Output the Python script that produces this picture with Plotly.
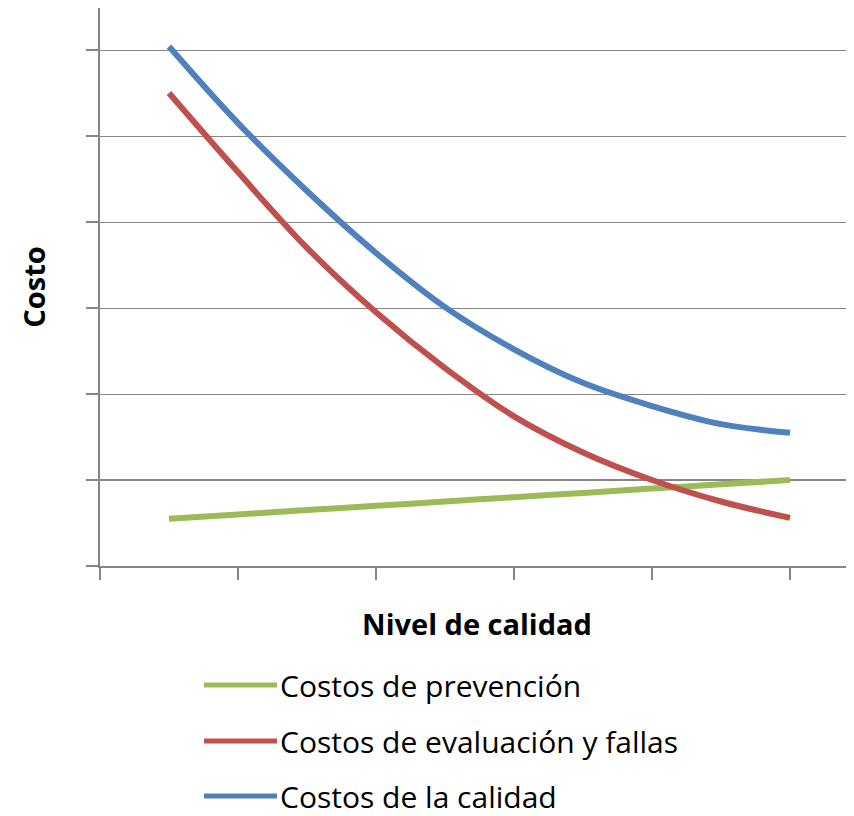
import plotly.graph_objects as go

# Data (x in axis units, tick spacing = 1)
x_vals = [0.5, 1.0, 1.5, 2.0, 2.5, 3.0, 3.5, 4.0, 4.5, 5.0]
prevencion = [0.55, 0.60, 0.65, 0.70, 0.75, 0.80, 0.85, 0.90, 0.95, 1.00]
evaluacion = [5.50, 4.58, 3.70, 2.95, 2.30, 1.74, 1.32, 1.00, 0.75, 0.56]
calidad = [6.04, 5.15, 4.36, 3.64, 3.01, 2.52, 2.13, 1.86, 1.65, 1.55]

series_names = ["Costos de prevención", "Costos de evaluación y fallas", "Costos de la calidad"]
series_values = [prevencion, evaluacion, calidad]
colors = ["#9BBB59", "#C0504D", "#4F81BD"]

FONT = "Open Sans"
GRID = "#868686"

# The page body adds an 8px offset, so figure coords = screen coords - 8
W, H = 846, 808
PL, PR, PT, PB = 92, 846, 0, 558

fig = go.Figure()
for name, vals, col in zip(series_names, series_values, colors):
    fig.add_trace(go.Scatter(
        x=x_vals, y=vals, mode="lines", name=name,
        line=dict(color=col, width=6, shape="spline", smoothing=1.0),
        showlegend=False,
    ))

# thicker line at y = 1 as in the reference
fig.add_shape(type="line", xref="paper", yref="y", x0=0, x1=1, y0=1, y1=1,
              line=dict(color=GRID, width=2), layer="below")

# custom legend (long line samples)
leg_y = [677, 733, 788]
for name, col, yy in zip(series_names, colors, leg_y):
    yp = (PB - yy) / (PB - PT)
    fig.add_shape(type="line", xref="paper", yref="paper",
                  x0=(196 - PL) / (PR - PL), x1=(269 - PL) / (PR - PL), y0=yp, y1=yp,
                  line=dict(color=col, width=5))
    fig.add_annotation(xref="paper", yref="paper", x=(271 - PL) / (PR - PL), y=yp,
                       text=name, showarrow=False, xanchor="left", yanchor="middle",
                       borderpad=0,
                       font=dict(family=FONT, size=30, color="#000000"))

fig.update_layout(
    width=W, height=H,
    margin=dict(l=PL, r=W - PR, t=PT, b=H - PB),
    paper_bgcolor="white", plot_bgcolor="white",
    xaxis=dict(range=[0, (PR - PL) / 138], tickvals=[0, 1, 2, 3, 4, 5], showticklabels=False,
               ticks="outside", ticklen=12, tickwidth=2, tickcolor=GRID,
               showline=True, linecolor=GRID, linewidth=2, showgrid=False, zeroline=False,
               automargin=False,
               title=dict(text="<b>Nivel de calidad</b>", font=dict(family=FONT, size=29, color="#000"),
                          standoff=36)),
    yaxis=dict(range=[0, (PB - PT) / 86], tickvals=[0, 1, 2, 3, 4, 5, 6], showticklabels=False,
               ticks="outside", ticklen=12, tickwidth=2, tickcolor=GRID,
               showline=True, linecolor=GRID, linewidth=2, showgrid=True, gridcolor=GRID,
               gridwidth=1, zeroline=False, automargin=False,
               title=dict(text="<b>Costo</b>", font=dict(family=FONT, size=29, color="#000"),
                          standoff=32)),
)

fig.write_html("out.html")
